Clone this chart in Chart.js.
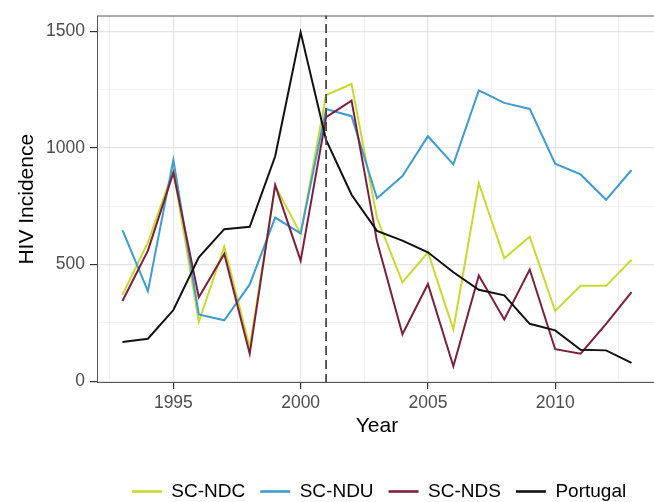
<!DOCTYPE html>
<html><head><meta charset="utf-8">
<script src="https://cdn.jsdelivr.net/npm/chart.js@4/dist/chart.umd.min.js"></script>
<style>html,body{margin:0;padding:0;background:#fff;overflow:hidden;}canvas{display:block;}</style>
</head><body>
<canvas id="c" width="660" height="502"></canvas>
<script>
const years = [1993,1994,1995,1996,1997,1998,1999,2000,2001,2002,2003,2004,2005,2006,2007,2008,2009,2010,2011,2012,2013];
const scNDC = [370,595,905,255,577,145,838,632,1228,1275,700,424,553,222,849,527,620,301,409,409,521];
const scNDU = [648,386,949,286,261,415,702,634,1168,1137,785,880,1051,930,1248,1194,1168,933,887,778,906];
const scNDS = [344,560,895,360,546,118,842,517,1133,1204,600,201,417,64,453,265,479,137,118,246,382];
const portugal = [168,182,305,531,652,662,965,1497,1035,800,645,603,553,467,392,368,246,218,135,132,78];
const seriesNames = ['SC-NDC','SC-NDU','SC-NDS','Portugal'];
const xMajorTicks = [1995,2000,2005,2010];
const xMinorTicks = [1992.5,1997.5,2002.5,2007.5,2012.5];
const yMajorTicks = [0,500,1000,1500];
const yMinorTicks = [250,750,1250];
const interventionYear = [2001];
const xLimits = [1992, 2014];
const yLimits = [-8, 1569];

const colors = ['#c8d92f','#3f9bd0','#7b1f3e','#111111'];
const FONT = 'Liberation Sans, Arial, sans-serif';

function pts(vals){ return years.map((y,i)=>({x:y,y:vals[i]})); }
const allSeries = [scNDC, scNDU, scNDS, portugal];
const datasets = allSeries.map((v,i)=>({
  label: seriesNames[i], data: pts(v), borderColor: colors[i], backgroundColor: colors[i],
  borderWidth: 2, pointRadius: 0, tension: 0, fill: false, order: 3 - i
}));

const gridMajor = '#e4e4e4', gridMinor = '#f0f0f0';

const extras = {
  id: 'extras',
  afterLayout(chart){
    const lg = chart.legend; if (!lg) return;
    const dx = 2, dy = 9;
    lg.left += dx; lg.right += dx; lg.top += dy; lg.bottom += dy;
  },
  afterDatasetsDraw(chart){
    const {ctx, chartArea:a, scales} = chart;
    ctx.save();
    ctx.beginPath(); ctx.rect(a.left, a.top, a.right-a.left, a.bottom-a.top); ctx.clip();
    interventionYear.forEach(yr=>{
      const x = scales.x.getPixelForValue(yr);
      ctx.strokeStyle = '#4a4a4a'; ctx.lineWidth = 1.8; ctx.setLineDash([9,5]);
      ctx.beginPath(); ctx.moveTo(x, a.bottom); ctx.lineTo(x, a.top); ctx.stroke();
    });
    ctx.restore();
    ctx.save();
    ctx.strokeStyle = '#555'; ctx.lineWidth = 1; ctx.setLineDash([]);
    ctx.strokeRect(a.left+0.5, a.top+0.5, a.right-a.left-1, a.bottom-a.top-1);
    ctx.restore();
  }
};

new Chart(document.getElementById('c'), {
  type: 'line',
  data: { datasets },
  options: {
    responsive: false, animation: false, devicePixelRatio: 1,
    layout: { padding: { top: 13, right: 3, left: 0, bottom: 0 } },
    plugins: {
      tooltip: { enabled: false },
      legend: {
        position: 'bottom', align: 'center', fullSize: false,
        labels: {
          usePointStyle: true, pointStyle: 'line', pointStyleWidth: 30,
          padding: 15, color: '#000', font: { family: FONT, size: 19 },
          sort: (a,b)=>a.datasetIndex-b.datasetIndex,
          generateLabels(chart){
            return chart.data.datasets.map((d,i)=>({
              text: d.label, strokeStyle: d.borderColor, fillStyle: d.borderColor,
              lineWidth: 2.6, pointStyle: 'line', datasetIndex: i, hidden: false, fontColor: '#000'
            }));
          }
        }
      }
    },
    scales: {
      x: {
        type: 'linear', min: xLimits[0], max: xLimits[1],
        afterBuildTicks: s => { s.ticks = [...xMinorTicks, ...xMajorTicks].sort((a,b)=>a-b).map(v=>({value:v})); },
        afterFit: s => { s.height = 75; },
        border: { display: false },
        grid: {
          color: c => xMajorTicks.includes(c.tick && c.tick.value) ? gridMajor : gridMinor,
          lineWidth: c => xMajorTicks.includes(c.tick && c.tick.value) ? 1.2 : 0.8,
          tickColor: c => xMajorTicks.includes(c.tick && c.tick.value) ? '#333' : 'rgba(0,0,0,0)',
          tickLength: 6, drawTicks: true
        },
        ticks: {
          autoSkip: false, maxRotation: 0, padding: 4, color: '#4d4d4d',
          font: { family: FONT, size: 17.5 },
          callback: v => xMajorTicks.includes(v) ? String(v) : ''
        },
        title: { display: true, text: 'Year', color: '#000', font: { family: FONT, size: 21 }, padding: { top: 0, bottom: 19 } }
      },
      y: {
        type: 'linear', min: yLimits[0], max: yLimits[1],
        afterBuildTicks: s => { s.ticks = [...yMajorTicks, ...yMinorTicks].sort((a,b)=>a-b).map(v=>({value:v})); },
        afterFit: s => { s.width = 97; },
        border: { display: false },
        grid: {
          color: c => yMajorTicks.includes(c.tick && c.tick.value) ? gridMajor : gridMinor,
          lineWidth: c => yMajorTicks.includes(c.tick && c.tick.value) ? 1.2 : 0.8,
          tickColor: c => yMajorTicks.includes(c.tick && c.tick.value) ? '#333' : 'rgba(0,0,0,0)',
          tickLength: 7, drawTicks: true
        },
        ticks: {
          autoSkip: false, padding: 5, color: '#4d4d4d',
          font: { family: FONT, size: 17.5 },
          callback: v => yMajorTicks.includes(v) ? String(v) : ''
        },
        title: { display: true, text: 'HIV Incidence', color: '#000', font: { family: FONT, size: 21 }, padding: { top: 15, bottom: 0 } }
      }
    }
  },
  plugins: [extras]
});
</script>
</body></html>
